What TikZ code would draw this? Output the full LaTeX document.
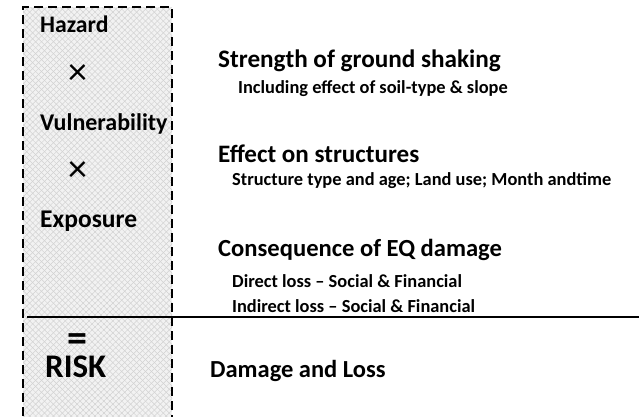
\documentclass[tikz,border=0pt]{standalone}
\usepackage{fontspec}
\setmainfont{Carlito}
\usetikzlibrary{patterns.meta}
\tikzset{
  lbl/.style={anchor=base west, inner sep=0pt, font=\bfseries\fontsize{24.5}{28}\selectfont},
  sub/.style={anchor=base west, inner sep=0pt, font=\bfseries\fontsize{18.4}{21}\selectfont},
  op/.style={inner sep=0pt, font=\fontsize{38}{38}\selectfont},
  boxframe/.style={draw=black, line width=1.6pt, dash pattern=on 9pt off 5pt},
}
\begin{document}
\begin{tikzpicture}[x=1pt, y=-1pt]
\useasboundingbox (0,0) rectangle (639,416);
\clip (0,0) rectangle (639,416);
% box background
\fill[gray!10] (23,7) rectangle (172,430);
\fill[pattern={Lines[angle=45, distance=4.2pt, line width=0.5pt]}, pattern color=gray!35] (23,7) rectangle (172,430);
\fill[pattern={Lines[angle=-45, distance=4.2pt, line width=0.5pt]}, pattern color=gray!35] (23,7) rectangle (172,430);
\draw[boxframe] (23,430) -- (23,7) -- (172,7) -- (172,430);
% left column
\node[lbl, font=\bfseries\fontsize{23.7}{28}\selectfont] (haz) at (40,32) {Hazard};
\node[op] (x1) at (77.5,75) {×};
\node[lbl, font=\bfseries\fontsize{24}{28}\selectfont] (vul) at (40,130) {Vulnerability};
\node[op] (x2) at (77.5,171.5) {×};
\node[lbl, font=\bfseries\fontsize{25.5}{28}\selectfont] (exp) at (40,227) {Exposure};
\node[op, font=\bfseries\fontsize{40}{40}\selectfont, anchor=base, text depth=0pt, text height=14pt] (eq) at (77,351) {=};
\node[lbl, font=\bfseries\fontsize{33}{36}\selectfont] (risk) at (45,377) {RISK};
% right column
\node[lbl, font=\bfseries\fontsize{25.2}{28}\selectfont] (t1) at (218,67) {Strength of ground shaking};
\node[sub] (t1a) at (238,93) {Including effect of soil-type \& slope};
\node[lbl, font=\bfseries\fontsize{25.1}{28}\selectfont] (t2) at (218,162) {Effect on structures};
\node[sub] (t2a) at (232,185) {Structure type and age; Land use; Month andtime};
\node[lbl, font=\bfseries\fontsize{24.6}{28}\selectfont] (t3) at (218,256) {Consequence of EQ damage};
\node[sub] (t3a) at (232,287) {Direct loss – Social \& Financial};
\node[sub] (t3b) at (232,312) {Indirect loss – Social \& Financial};
\node[lbl] (t4) at (210,377) {Damage and Loss};
% rule
\coordinate (rs) at (27,317);
\coordinate (re) at (639,317);
\draw[line width=2pt] (rs) -- (re);
\end{tikzpicture}
\end{document}
